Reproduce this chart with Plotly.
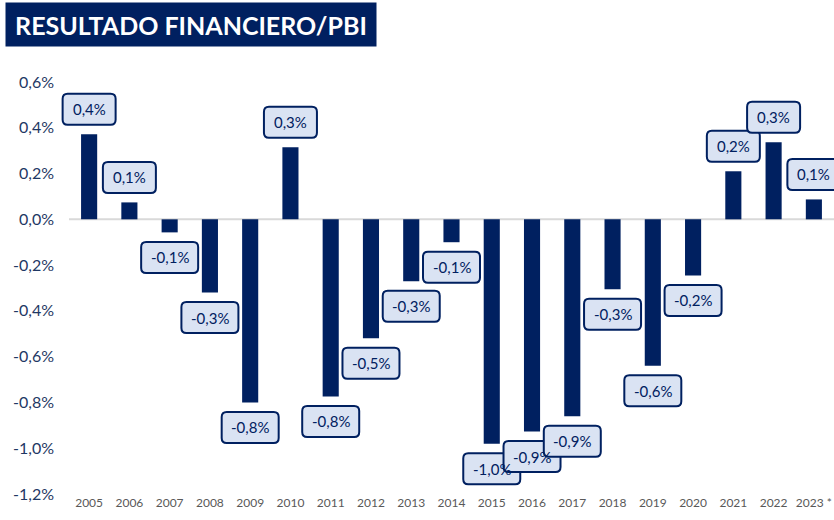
import plotly.graph_objects as go

years = ["2005", "2006", "2007", "2008", "2009", "2010", "2011", "2012", "2013", "2014",
         "2015", "2016", "2017", "2018", "2019", "2020", "2021", "2022", "2023 *"]
values = [0.372, 0.074, -0.057, -0.32, -0.80, 0.315, -0.774, -0.52, -0.27, -0.10,
          -0.98, -0.927, -0.86, -0.306, -0.64, -0.245, 0.21, 0.337, 0.087]
labels = ["0,4%", "0,1%", "-0,1%", "-0,3%", "-0,8%", "0,3%", "-0,8%", "-0,5%", "-0,3%", "-0,1%",
          "-1,0%", "-0,9%", "-0,9%", "-0,3%", "-0,6%", "-0,2%", "0,2%", "0,3%", "0,1%"]
ytick_vals = [0.6, 0.4, 0.2, 0.0, -0.2, -0.4, -0.6, -0.8, -1.0, -1.2]
ytick_text = ["0,6%", "0,4%", "0,2%", "0,0%", "-0,2%", "-0,4%", "-0,6%", "-0,8%", "-1,0%", "-1,2%"]
title_text = "RESULTADO FINANCIERO/PBI"

NAVY = "#002060"
BOXFILL = "#dae3f3"
FONT = "Lato"

fig = go.Figure()
fig.add_trace(go.Bar(x=years, y=values, marker=dict(color=NAVY, line=dict(width=0)),
                     hoverinfo="skip"))


def rounded_path(w, h, cy, r=5):
    x0, x1 = -w / 2, w / 2
    y0, y1 = cy - h / 2, cy + h / 2
    return (f"M {x0 + r},{y0} L {x1 - r},{y0} Q {x1},{y0} {x1},{y0 + r} "
            f"L {x1},{y1 - r} Q {x1},{y1} {x1 - r},{y1} L {x0 + r},{y1} "
            f"Q {x0},{y1} {x0},{y1 - r} L {x0},{y0 + r} Q {x0},{y0} {x0 + r},{y0} Z")


n = len(years)
shapes = [dict(type="line", xref="x", yref="y", x0=-0.5, x1=n - 0.5, y0=0, y1=0,
               line=dict(color="#d9d9d9", width=2), layer="below")]
annotations = []
for i, (v, lab) in enumerate(zip(values, labels)):
    off = 25 if v >= 0 else -25
    w = 53 if v >= 0 else 57
    shapes.append(dict(type="path", xref="x", yref="y",
                       xsizemode="pixel", ysizemode="pixel",
                       xanchor=i, yanchor=v,
                       path=rounded_path(w, 31, off),
                       fillcolor=BOXFILL, line=dict(color=NAVY, width=2),
                       layer="above"))
    annotations.append(dict(x=i, y=v, xref="x", yref="y", text=lab, showarrow=False,
                            yshift=off, font=dict(family=FONT, size=15, color=NAVY)))

# title box
annotations.append(dict(xref="paper", yref="paper", x=0, y=1 + 58 / 412,
                        xanchor="left", yanchor="middle",
                        text="<b>" + title_text + "</b>", showarrow=False,
                        font=dict(family=FONT, size=25, color="white"),
                        bgcolor=NAVY, borderpad=6, width=358, height=31, align="center",
                        xshift=-55))

fig.update_layout(
    width=834, height=520,
    margin=dict(l=60, r=0, t=82, b=26),
    paper_bgcolor="white", plot_bgcolor="white",
    showlegend=False,
    bargap=0.6,
    shapes=shapes,
    annotations=annotations,
    xaxis=dict(type="category", showgrid=False, showline=False, ticks="",
               tickfont=dict(family=FONT, size=12, color="#595959"),
               range=[-0.5 - 9 / 40.3, n - 0.5], fixedrange=True, automargin=False),
    yaxis=dict(range=[-1.2, 0.6], tickvals=ytick_vals, ticktext=ytick_text,
               showgrid=False, showline=False, ticks="", zeroline=False,
               tickfont=dict(family=FONT, size=16, color="#1f3864"),
               ticklabelstandoff=5, fixedrange=True, automargin=False),
)

fig.write_html("out.html", config={"displayModeBar": False},
               post_script="document.body.style.margin='0';document.body.style.overflow='hidden';")
